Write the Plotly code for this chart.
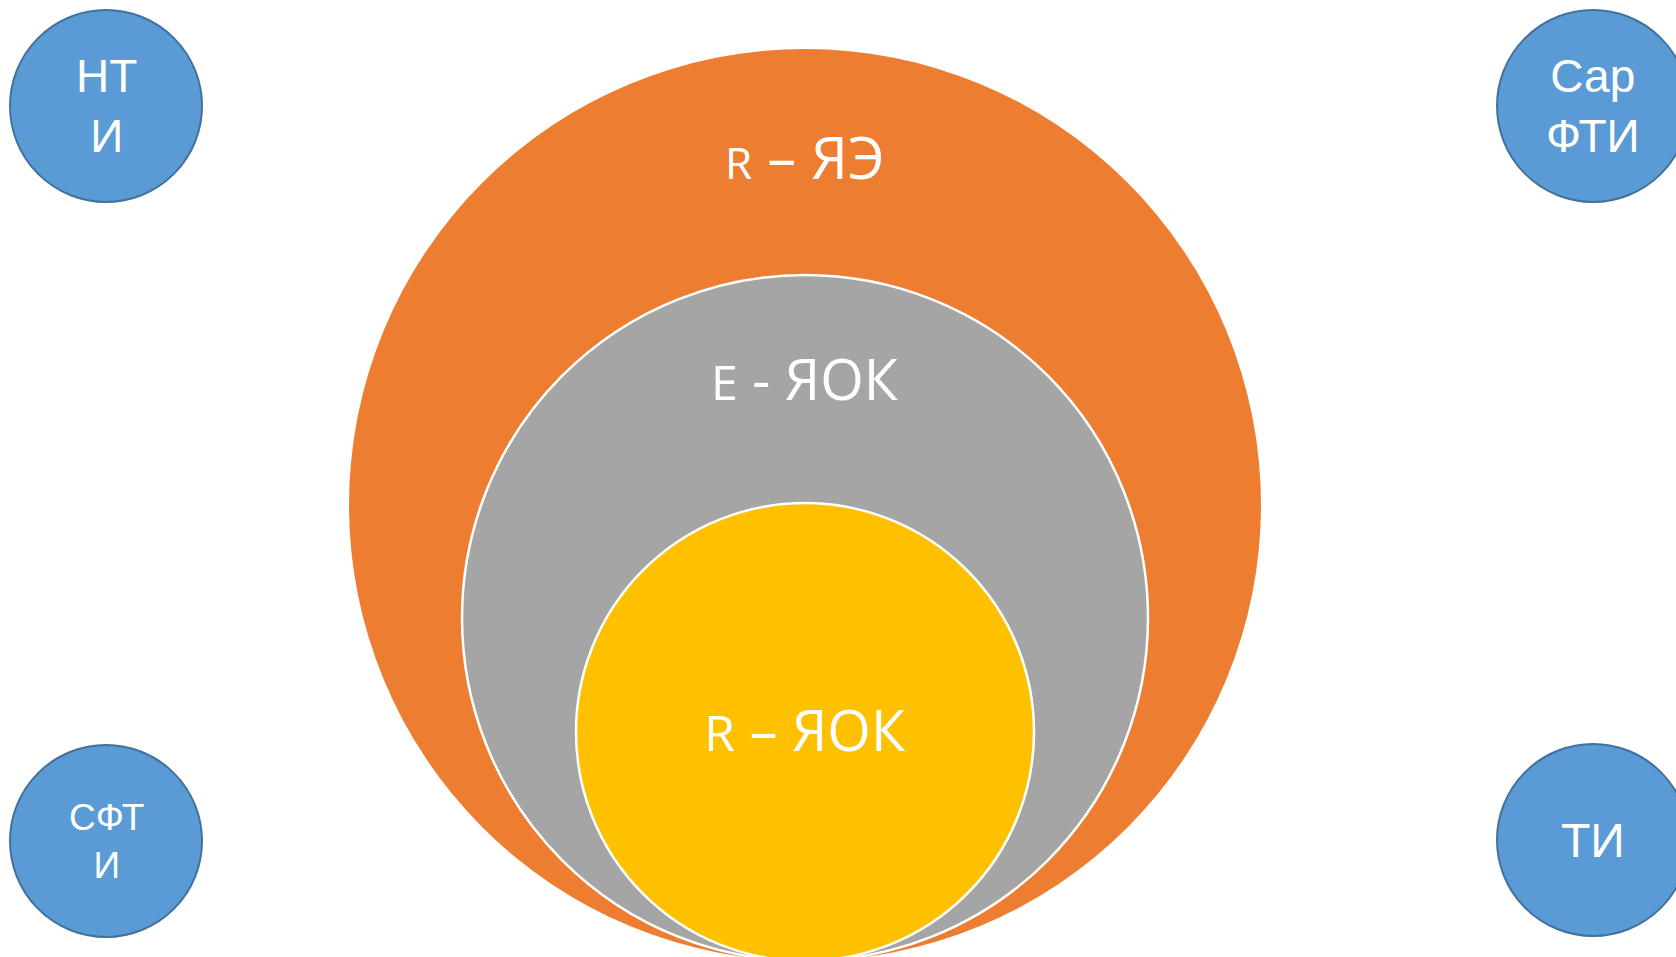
import plotly.graph_objects as go

# ---- data ----
ring_prefix = ["R", "E", "R"]
ring_suffix = [" – ЯЭ", " - ЯОК", " – ЯОК"]
node_labels = ["НТ<br>И", "Сар<br>ФТИ", "СФТ<br>И", "ТИ"]

# ---- geometry / style (pixels, y down) ----
W, H = 1676, 957
ring_cx = 805
ring_r = [456, 343, 229]
ring_bottom = 961
ring_fill = ["#ED7D31", "#A5A5A5", "#FFC000"]
ring_line = [0, 2.5, 2.5]
ring_text_y = [156, 378, 729]
ring_pre_size = [44, 48, 50]
ring_suf_size = [58, 56, 56]

node_cx = [106, 1593, 106, 1593]
node_cy = [106, 106, 841, 840]
node_r = 96
node_size = [46, 46, 37, 48]

fig = go.Figure()
shapes = []
for r, fc, lw in zip(ring_r, ring_fill, ring_line):
    cy = ring_bottom - r
    shapes.append(dict(type="circle", xref="x", yref="y",
                       x0=ring_cx - r, x1=ring_cx + r, y0=cy - r, y1=cy + r,
                       fillcolor=fc, line=dict(color="white", width=lw)))
for cx, cy in zip(node_cx, node_cy):
    shapes.append(dict(type="circle", xref="x", yref="y",
                       x0=cx - node_r, x1=cx + node_r, y0=cy - node_r, y1=cy + node_r,
                       fillcolor="#5B9BD5", line=dict(color="#41719C", width=2)))

annotations = []
for pre, suf, ty, ps, ss in zip(ring_prefix, ring_suffix, ring_text_y, ring_pre_size, ring_suf_size):
    annotations.append(dict(
        x=ring_cx, y=ty, xref="x", yref="y", showarrow=False,
        xanchor="center", yanchor="middle",
        text=f"<span style='font-size:{ps}px'>{pre}</span>{suf}",
        font=dict(family="Open Sans", size=ss, color="white")))
for lab, cx, cy, fs in zip(node_labels, node_cx, node_cy, node_size):
    annotations.append(dict(
        x=cx, y=cy, xref="x", yref="y", showarrow=False,
        xanchor="center", yanchor="middle", text=lab,
        font=dict(family="Liberation Sans", size=fs, color="white")))

fig.update_layout(
    width=W, height=H, autosize=False,
    margin=dict(l=0, r=0, t=0, b=0),
    paper_bgcolor="white", plot_bgcolor="white",
    shapes=shapes, annotations=annotations, showlegend=False,
    xaxis=dict(range=[0, W], visible=False, fixedrange=True),
    yaxis=dict(range=[H, 0], visible=False, fixedrange=True),
)
fig.write_html("out.html", config={"displayModeBar": False},
               post_script="document.body.style.margin='0';")
